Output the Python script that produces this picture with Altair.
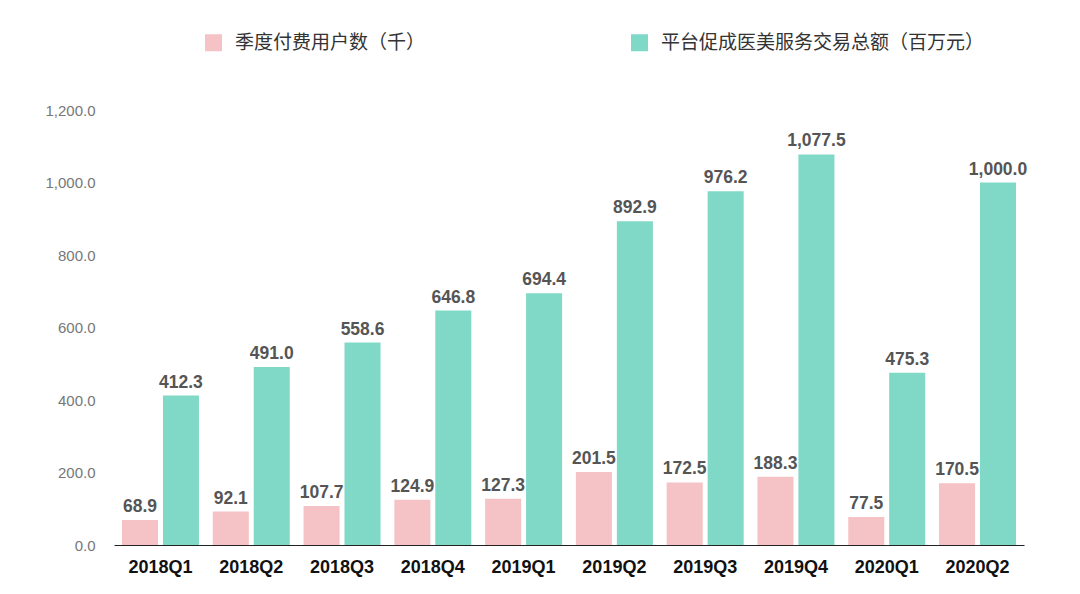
import altair as alt
import pandas as pd

quarters = ["2018Q1", "2018Q2", "2018Q3", "2018Q4", "2019Q1",
            "2019Q2", "2019Q3", "2019Q4", "2020Q1", "2020Q2"]
paying_users = [68.9, 92.1, 107.7, 124.9, 127.3, 201.5, 172.5, 188.3, 77.5, 170.5]
gtv = [412.3, 491.0, 558.6, 646.8, 694.4, 892.9, 976.2, 1077.5, 475.3, 1000.0]
series_names = ["季度付费用户数（千）", "平台促成医美服务交易总额（百万元）"]
colors = ["#F5C2C6", "#80D8C7"]
y_ticks = [0, 200, 400, 600, 800, 1000, 1200]

rows = []
for q, a, b in zip(quarters, paying_users, gtv):
    rows.append({"quarter": q, "series": series_names[0], "value": a})
    rows.append({"quarter": q, "series": series_names[1], "value": b})
df = pd.DataFrame(rows)

num_font = "Liberation Sans"
cjk_font = "Noto Sans CJK SC"

x_enc = alt.X("quarter:N", sort=quarters,
              scale=alt.Scale(paddingInner=0.152, paddingOuter=0.088),
              axis=alt.Axis(title=None, labelFont=num_font, labelFontSize=18,
                            labelFontWeight="bold", labelColor="#111",
                            labelAngle=0, ticks=False, domainColor="#222",
                            domainWidth=1.2, labelPadding=13))
xoff = alt.XOffset("series:N", sort=series_names,
                   scale=alt.Scale(paddingInner=0.12, paddingOuter=0))
y_enc = alt.Y("value:Q", scale=alt.Scale(domain=[0, 1200], nice=False),
              axis=alt.Axis(title=None, values=y_ticks, format=",.1f",
                            labelFont=num_font, labelFontSize=15,
                            labelColor="#777", ticks=False, domain=False,
                            grid=False, labelPadding=19))
color_enc = alt.Color("series:N", sort=series_names,
                      scale=alt.Scale(domain=series_names, range=colors),
                      legend=alt.Legend(title=None, orient="none",
                                        direction="horizontal",
                                        legendX=90, legendY=-77,
                                        symbolType="square", symbolSize=289,
                                        symbolStrokeWidth=0,
                                        labelFont=cjk_font, labelFontSize=19,
                                        labelColor="#333", labelOffset=12,
                                        columnPadding=204, labelLimit=500))

bars = alt.Chart(df).mark_bar().encode(
    x=x_enc, xOffset=xoff, y=y_enc, color=color_enc
)
labels = alt.Chart(df).mark_text(
    dy=-13, font=num_font, fontSize=17.5, fontWeight="bold", color="#555"
).encode(
    x=alt.X("quarter:N", sort=quarters), xOffset=xoff,
    y="value:Q", text=alt.Text("value:Q", format=",.1f")
)

chart = alt.layer(bars, labels).properties(
    width=910, height=435,
    autosize=alt.AutoSizeParams(type="none"),
    padding={"left": 114, "top": 110, "right": 56, "bottom": 49},
    background="white"
).configure_view(stroke=None)

chart.save("out.html", embed_options={"renderer": "svg", "actions": False})
